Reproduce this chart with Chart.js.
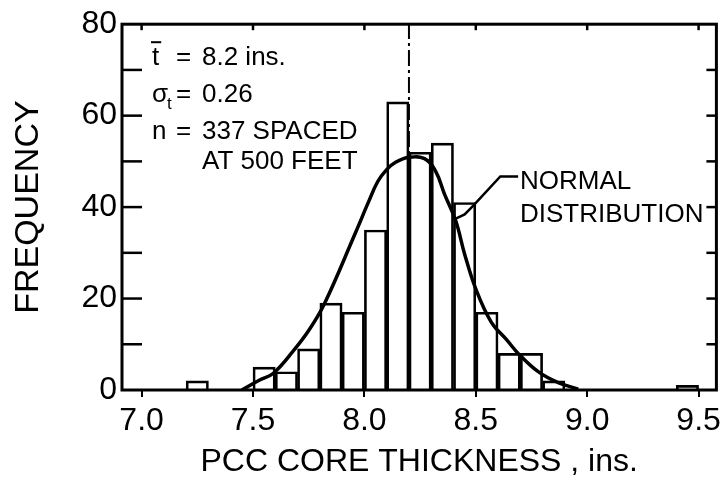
<!DOCTYPE html>
<html>
<head>
<meta charset="utf-8">
<script src="https://cdn.jsdelivr.net/npm/chart.js@4.4.0/dist/chart.umd.min.js"></script>
<style>
  body { margin: 0; background: #fff; }
  #wrap { width: 726px; height: 488px; }
</style>
</head>
<body>
<div id="wrap"><canvas id="histChart"></canvas></div>
<script>
// core thickness bins (lower edge, ins.) and number of cores in each bin
var binLow = [7.2, 7.5, 7.6, 7.7, 7.8, 7.9, 8.0, 8.1, 8.2, 8.3, 8.4, 8.5, 8.6, 8.7, 8.8, 9.4];
var counts = [2, 5, 4, 9, 19, 17, 35, 63, 52, 54, 41, 17, 8, 8, 2, 1];
var binWidth = 0.1;

// fitted normal distribution curve
var curveX = [7.45, 7.53, 7.59, 7.68, 7.75, 7.82, 7.96, 8.02, 8.06, 8.1, 8.14, 8.2, 8.27, 8.32, 8.36, 8.41, 8.45, 8.5, 8.57, 8.64, 8.69, 8.78, 8.87, 8.96];
var curveY = [0, 2.2, 3.6, 8.5, 13, 18.8, 34.4, 41.3, 45.6, 48.2, 49.8, 50.9, 50.6, 47.8, 42.8, 37, 29.7, 22.1, 14.8, 10.9, 8, 4, 1.6, 0.2];

// leader from the curve label to the curve
var leaderX = [8.69, 8.61, 8.49, 8.45, 8.41];
var leaderY = [46.7, 46.7, 40.4, 38.4, 37.5];

var meanT = 8.2;
var xTickValues = [7.0, 7.5, 8.0, 8.5, 9.0, 9.5];
var yTickValues = [0, 10, 20, 30, 40, 50, 60, 70, 80];
var yTickLabels = ['0', '', '20', '', '40', '', '60', '', '80'];

var statLines = [
  { sym: 't', bar: true, val: '8.2 ins.' },
  { sym: 'σ', sub: 't', val: '0.26' },
  { sym: 'n', val: '337 SPACED' },
  { sym: '', val: 'AT 500 FEET' }
];

var FONT = '"Liberation Sans", Arial, sans-serif';

function xy(xs, ys) {
  return xs.map(function (x, i) { return { x: x, y: ys[i] }; });
}

var bars = binLow.map(function (b, i) {
  return { x: b + binWidth / 2, y: counts[i] };
});

var framePlugin = {
  id: 'frame',
  afterDatasetsDraw: function (chart) {
    var ctx = chart.ctx, a = chart.chartArea;
    var xs = chart.scales.x, ys = chart.scales.y;
    function seg(x1, y1, x2, y2) {
      ctx.beginPath(); ctx.moveTo(x1, y1); ctx.lineTo(x2, y2); ctx.stroke();
    }
    ctx.save();
    ctx.strokeStyle = '#000';
    ctx.fillStyle = '#000';
    ctx.lineWidth = 3;
    ctx.strokeRect(a.left, a.top, a.right - a.left, a.bottom - a.top);

    // inside ticks on the frame
    ctx.lineWidth = 2.5;
    ys.ticks.forEach(function (t) {
      if (t.value <= ys.min || t.value >= ys.max) return;
      var y = ys.getPixelForValue(t.value);
      seg(a.left, y, a.left + 20, y);
      seg(a.right - 10, y, a.right, y);
    });
    xs.ticks.forEach(function (t) {
      var x = xs.getPixelForValue(t.value);
      seg(x, a.top, x, a.top + 6);
    });

    // statistics block
    ctx.textBaseline = 'alphabetic';
    ctx.lineWidth = 2;
    var c1 = a.left + 30, c2 = a.left + 54, c3 = a.left + 80;
    var rows = [41, 78, 115, 145];
    statLines.forEach(function (r, i) {
      var y = a.top + rows[i];
      ctx.font = '26px ' + FONT;
      if (r.sym) {
        ctx.fillText(r.sym, c1, y);
        var w = ctx.measureText(r.sym).width;
        if (r.bar) seg(c1 - 1, y - 23, c1 + w + 2, y - 23);
        if (r.sub) {
          ctx.font = '17px ' + FONT;
          ctx.fillText(r.sub, c1 + w - 1, y + 7);
          ctx.font = '26px ' + FONT;
        }
        ctx.fillText('=', c2, y);
      }
      ctx.fillText(r.val, c3, y);
    });

    // curve label
    ctx.font = '26px ' + FONT;
    ctx.fillText('NORMAL', a.left + 398, a.top + 165);
    ctx.fillText('DISTRIBUTION', a.left + 398, a.top + 198);
    ctx.restore();
  }
};

var ctx = document.getElementById('histChart');

var histChart = new Chart(ctx, {
  type: 'bar',
  data: {
    datasets: [
      {
        type: 'line',
        data: xy(curveX, curveY),
        borderColor: '#000',
        borderWidth: 3.5,
        pointRadius: 0,
        tension: 0.4,
        order: 1
      },
      {
        type: 'line',
        data: xy(leaderX, leaderY),
        borderColor: '#000',
        borderWidth: 2.5,
        pointRadius: 0,
        tension: 0,
        order: 1
      },
      {
        type: 'line',
        data: [{ x: meanT, y: 0 }, { x: meanT, y: 80 }],
        borderColor: '#000',
        borderWidth: 2,
        borderDash: [16, 4, 3, 4],
        pointRadius: 0,
        order: 1
      },
      {
        type: 'bar',
        data: bars,
        backgroundColor: 'rgba(0,0,0,0)',
        borderColor: '#000',
        borderWidth: 2,
        barPercentage: 1,
        categoryPercentage: 1,
        order: 2
      }
    ]
  },
  options: {
    responsive: true,
    maintainAspectRatio: false,
    animation: false,
    layout: { padding: { top: 22, right: 6, left: 0, bottom: 7 } },
    plugins: {
      legend: { display: false },
      tooltip: { enabled: false }
    },
    scales: {
      x: {
        type: 'linear',
        min: 6.912,
        max: 9.58,
        offset: false,
        afterBuildTicks: function (scale) {
          scale.ticks = xTickValues.map(function (v) { return { value: v }; });
        },
        afterFit: function (scale) { scale.height = 91; },
        ticks: {
          color: '#000',
          font: { family: FONT, size: 32 },
          padding: 5,
          maxRotation: 0,
          autoSkip: false,
          callback: function (v) { return Number(v).toFixed(1); }
        },
        grid: {
          offset: false,
          drawOnChartArea: false,
          drawTicks: true,
          tickLength: 7,
          color: '#000',
          lineWidth: 2
        },
        border: { display: false },
        title: {
          display: true,
          text: 'PCC CORE THICKNESS , ins.',
          color: '#000',
          font: { family: FONT, size: 32 },
          padding: { top: 0, bottom: 0 }
        }
      },
      y: {
        min: 0,
        max: 80,
        afterBuildTicks: function (scale) {
          scale.ticks = yTickValues.map(function (v) { return { value: v }; });
        },
        afterFit: function (scale) { scale.width = 122; },
        ticks: {
          color: '#000',
          font: { family: FONT, size: 32 },
          padding: 5,
          autoSkip: false,
          callback: function (v, i) { return yTickLabels[i]; }
        },
        grid: { drawOnChartArea: false, drawTicks: false },
        border: { display: false },
        title: {
          display: true,
          text: 'FREQUENCY',
          color: '#000',
          font: { family: FONT, size: 34 },
          padding: { top: 8, bottom: 0 }
        }
      }
    }
  },
  plugins: [framePlugin]
});
</script>
</body>
</html>
